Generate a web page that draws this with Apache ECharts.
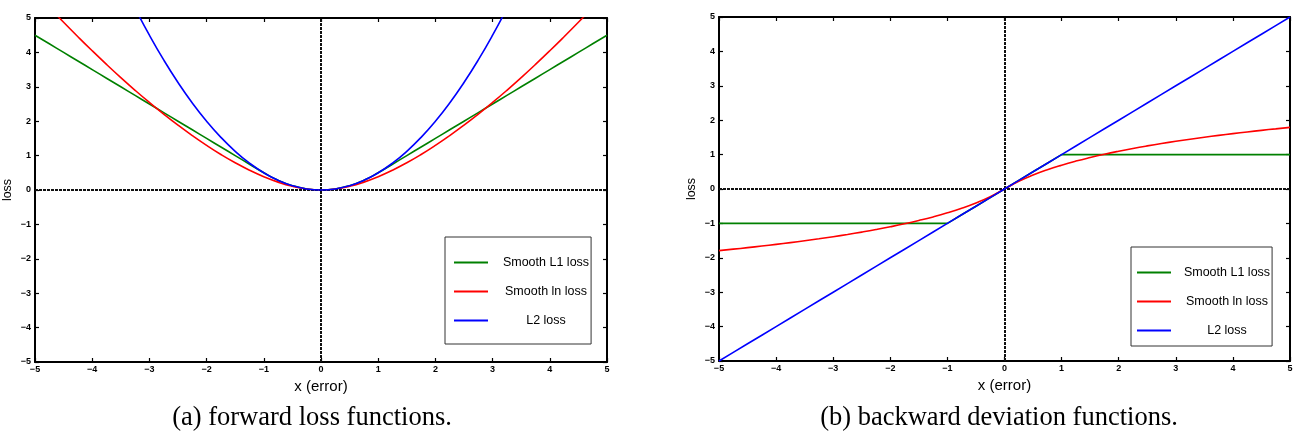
<!DOCTYPE html>
<html>
<head>
<meta charset="utf-8">
<script src="https://cdn.jsdelivr.net/npm/echarts@6/dist/echarts.min.js"></script>
<style>
html,body{margin:0;padding:0;background:#fff;}
#c{width:1303px;height:435px;}
</style>
</head>
<body>
<div id="c"></div>
<script>
// ---- data ----
const xs = [-5,-4.75,-4.5,-4.25,-4,-3.75,-3.5,-3.25,-3,-2.75,-2.5,-2.25,-2,-1.75,-1.5,-1.25,-1,-0.75,-0.5,-0.25,0,
            0.25,0.5,0.75,1,1.25,1.5,1.75,2,2.25,2.5,2.75,3,3.25,3.5,3.75,4,4.25,4.5,4.75,5];
// (a) forward loss functions
const lossL1 = [4.5,4.25,4,3.75,3.5,3.25,3,2.75,2.5,2.25,2,1.75,1.5,1.25,1,0.75,0.5,0.281,0.125,0.031,0,
                0.031,0.125,0.281,0.5,0.75,1,1.25,1.5,1.75,2,2.25,2.5,2.75,3,3.25,3.5,3.75,4,4.25,4.5];
const lossLn = [5.751,5.308,4.876,4.456,4.047,3.651,3.268,2.899,2.545,2.207,1.885,1.581,1.296,1.032,0.791,0.575,0.386,0.229,0.108,0.029,0,
                0.029,0.108,0.229,0.386,0.575,0.791,1.032,1.296,1.581,1.885,2.207,2.545,2.899,3.268,3.651,4.047,4.456,4.876,5.308,5.751];
const lossL2 = [12.5,11.281,10.125,9.031,8,7.031,6.125,5.281,4.5,3.781,3.125,2.531,2,1.531,1.125,0.781,0.5,0.281,0.125,0.031,0,
                0.031,0.125,0.281,0.5,0.781,1.125,1.531,2,2.531,3.125,3.781,4.5,5.281,6.125,7.031,8,9.031,10.125,11.281,12.5];
// (b) backward deviation functions
const devL1 = [-1,-1,-1,-1,-1,-1,-1,-1,-1,-1,-1,-1,-1,-1,-1,-1,-1,-0.75,-0.5,-0.25,0,
               0.25,0.5,0.75,1,1,1,1,1,1,1,1,1,1,1,1,1,1,1,1,1];
const devLn = [-1.792,-1.749,-1.705,-1.658,-1.609,-1.558,-1.504,-1.447,-1.386,-1.322,-1.253,-1.179,-1.099,-1.012,-0.916,-0.811,-0.693,-0.560,-0.405,-0.223,0,
               0.223,0.405,0.560,0.693,0.811,0.916,1.012,1.099,1.179,1.253,1.322,1.386,1.447,1.504,1.558,1.609,1.658,1.705,1.749,1.792];
const devL2 = [-5,-4.75,-4.5,-4.25,-4,-3.75,-3.5,-3.25,-3,-2.75,-2.5,-2.25,-2,-1.75,-1.5,-1.25,-1,-0.75,-0.5,-0.25,0,
               0.25,0.5,0.75,1,1.25,1.5,1.75,2,2.25,2.5,2.75,3,3.25,3.5,3.75,4,4.25,4.5,4.75,5];
const seriesNames = ['Smooth L1 loss','Smooth ln loss','L2 loss'];
const seriesColors = ['#008000','#ff0000','#0000ff'];
const tickValues = [-5,-4,-3,-2,-1,0,1,2,3,4,5];
const axisMin = -5, axisMax = 5, axisStep = 1;
const captions = ['(a) forward loss functions.','(b) backward deviation functions.'];
const xName = 'x (error)', yName = 'loss';

// ---- chart ----
const pairs = arr => xs.map((x,i)=>[x,arr[i]]);
const fmt = v => tickValues.includes(v) ? String(v).replace('-','\u2212') : '';
const FONT = 'Liberation Sans, Arial, sans-serif';
const SERIF = 'Liberation Serif, Times New Roman, serif';

const grids = [
  {left:34, top:18, width:573, height:344},
  {left:719, top:17, width:571, height:344}
];

const xAxes = [], yAxes = [];
grids.forEach((g,gi)=>{
  const common = {
    type:'value', min:axisMin, max:axisMax, interval:axisStep, gridIndex:gi,
    splitLine:{show:false},
    axisLine:{show:true, onZero:false, lineStyle:{color:'#000', width:2}},
    axisTick:{show:true, inside:true, length:4, lineStyle:{color:'#000', width:1.2}}
  };
  xAxes.push(Object.assign({}, common, {
    position:'bottom',
    name:xName, nameLocation:'middle', nameGap:15,
    nameTextStyle:{fontFamily:FONT, fontSize:15, color:'#000'},
    axisLabel:{show:true, margin:3, fontFamily:FONT, fontSize:9, fontWeight:'bold', color:'#000', formatter:fmt}
  }));
  xAxes.push(Object.assign({}, common, {position:'top', axisLabel:{show:false}}));
  yAxes.push(Object.assign({}, common, {
    position:'left',
    name:yName, nameLocation:'middle', nameGap:21, nameRotate:90,
    nameTextStyle:{fontFamily:FONT, fontSize:12.5, color:'#000'},
    axisLabel:{show:true, margin:4, fontFamily:FONT, fontSize:9, fontWeight:'bold', color:'#000', formatter:fmt}
  }));
  yAxes.push(Object.assign({}, common, {position:'right', axisLabel:{show:false}}));
});

const panelData = [[lossL1, lossLn, lossL2],[devL1, devLn, devL2]];
const smoothFlags = [[true,true,true],[false,true,false]];
const series = [];
panelData.forEach((arrs,gi)=>{
  arrs.forEach((arr,si)=>{
    const s = {
      type:'line', name:seriesNames[si], xAxisIndex:gi*2, yAxisIndex:gi*2,
      data:pairs(arr), showSymbol:false, smooth:smoothFlags[gi][si], clip:true,
      lineStyle:{color:seriesColors[si], width:1.6}, itemStyle:{color:seriesColors[si]},
      animation:false, z:3+si
    };
    if(si===0){
      s.markLine = {
        silent:true, symbol:'none', label:{show:false}, animation:false,
        lineStyle:{color:'#111', width:2, type:[3,1]},
        data:[{xAxis:0},{yAxis:0}]
      };
    }
    series.push(s);
  });
});

const makeLegend = (left, top, padding, textPad) => ({
  left:left, top:top, padding:padding, itemGap:16,
  orient:'vertical', data:seriesNames, icon:'rect', itemWidth:34, itemHeight:2,
  borderColor:'#333', borderWidth:1, backgroundColor:'#fff',
  formatter: n => '{a|' + n + '}',
  textStyle:{fontFamily:FONT, fontSize:12.5, color:'#000',
    rich:{a:{width:90, align:'center', padding:[0,0,0,textPad], fontFamily:FONT, fontSize:12.5, color:'#000'}}},
  selectedMode:false
});
const legends = [
  makeLegend(445, 237, [19,2,17,9], 8),
  makeLegend(1131, 247, [19,2,9,6], 6)
];

const chart = echarts.init(document.getElementById('c'), null, {renderer:'canvas'});
chart.setOption({
  animation:false,
  backgroundColor:'#fff',
  grid:grids.map(g=>Object.assign({containLabel:false}, g)),
  xAxis:xAxes, yAxis:yAxes,
  legend:legends,
  title:[
    {text:captions[0], left:312, top:405, padding:0, textAlign:'center',
     textStyle:{fontFamily:SERIF, fontSize:26.5, fontWeight:'normal', color:'#000'}},
    {text:captions[1], left:999, top:405, padding:0, textAlign:'center',
     textStyle:{fontFamily:SERIF, fontSize:26.5, fontWeight:'normal', color:'#000'}}
  ],
  series:series
});
</script>
</body>
</html>
